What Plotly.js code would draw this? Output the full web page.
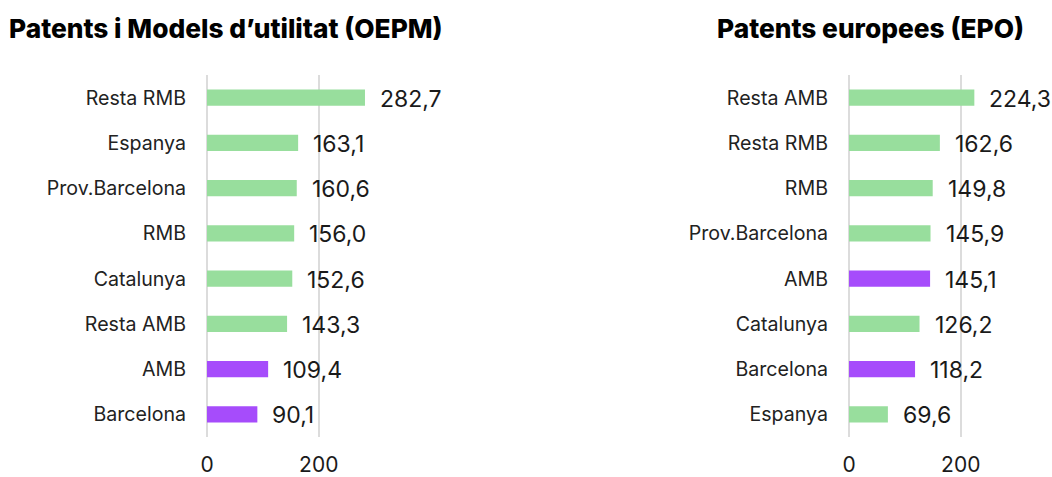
<!DOCTYPE html>
<html>
<head>
<meta charset="utf-8">
<script src="https://cdn.plot.ly/plotly-3.0.1.min.js"></script>
<style>html,body{margin:0;padding:0;background:#fff;}#chart{width:1052px;height:477px;}</style>
</head>
<body>
<div id="chart"></div>
<script>
// Left chart: Patents i Models d'utilitat (OEPM)
const oepmCategories = ["Resta RMB","Espanya","Prov.Barcelona","RMB","Catalunya","Resta AMB","AMB","Barcelona"];
const oepmValues = [282.7,163.1,160.6,156.0,152.6,143.3,109.4,90.1];
const oepmHighlight = [false,false,false,false,false,false,true,true];

// Right chart: Patents europees (EPO)
const epoCategories = ["Resta AMB","Resta RMB","RMB","Prov.Barcelona","AMB","Catalunya","Barcelona","Espanya"];
const epoValues = [224.3,162.6,149.8,145.9,145.1,126.2,118.2,69.6];
const epoHighlight = [false,false,false,false,true,false,true,false];

const titles = ["Patents i Models d\u2019utilitat (OEPM)","Patents europees (EPO)"];
const tickVals = [0,200];
const tickText = ["0","200"];

const GREEN = "#98DE9D", PURPLE = "#A64CFB";
const W = 1052, H = 477;
const FONT = "Inter, Roboto, 'Noto Sans', sans-serif";
const fmt = v => v.toFixed(1).replace(".", ",");

function bar(cats, vals, hl, xa, ya){
  return {
    type: "bar", orientation: "h",
    x: vals, y: cats, xaxis: xa, yaxis: ya,
    marker: {color: hl.map(h => h ? PURPLE : GREEN)},
    hoverinfo: "skip", showlegend: false
  };
}
function labels(cats, vals, xref, yref){
  return cats.map((c,i) => ({
    x: vals[i], y: c, xref: xref, yref: yref,
    text: fmt(vals[i]), showarrow: false, xanchor: "left", yanchor: "middle",
    xshift: 13, yshift: -1, font: {family: FONT, size: 23, color: "#1a1a1a"}
  }));
}

const yDomain = [1 - 437/H, 1 - 75/H];
const xRange = [0, 340];
function xaxis(x0){
  return {
    domain: [x0/W, (x0 + 190)/W], range: xRange,
    tickvals: tickVals, ticktext: tickText,
    showgrid: true, gridcolor: "#dcdcdc", gridwidth: 2,
    zeroline: true, zerolinecolor: "#dcdcdc", zerolinewidth: 2,
    showline: false, ticks: "",
    ticklabelstandoff: 13,
    tickfont: {family: FONT, size: 21, color: "#1a1a1a"},
    fixedrange: true
  };
}
function yaxis(anchor, cats){
  return {
    domain: yDomain, anchor: anchor, type: "category",
    categoryorder: "array", categoryarray: cats.slice().reverse(),
    showgrid: false, zeroline: false, showline: false, ticks: "",
    ticklabelstandoff: 20,
    tickfont: {family: FONT, size: 19.6, color: "#222"},
    fixedrange: true
  };
}

const data = [
  bar(oepmCategories, oepmValues, oepmHighlight, "x", "y"),
  bar(epoCategories, epoValues, epoHighlight, "x2", "y2")
];

const titleAnn = [
  {x: 226/W, y: 1 - 28/H, text: titles[0]},
  {x: 870/W, y: 1 - 28/H, text: titles[1]}
].map(a => Object.assign(a, {xref: "paper", yref: "paper", showarrow: false,
  xanchor: "center", yanchor: "middle",
  font: {family: FONT, size: 26.3, weight: 800, color: "#000"}}));

const layout = {
  width: W, height: H,
  margin: {l: 0, r: 0, t: 0, b: 0},
  paper_bgcolor: "#fff", plot_bgcolor: "#fff",
  bargap: 0.64,
  xaxis: Object.assign(xaxis(207), {anchor: "y"}),
  yaxis: yaxis("x", oepmCategories),
  xaxis2: Object.assign(xaxis(849), {anchor: "y2"}),
  yaxis2: yaxis("x2", epoCategories),
  annotations: titleAnn
    .concat(labels(oepmCategories, oepmValues, "x", "y"))
    .concat(labels(epoCategories, epoValues, "x2", "y2")),
  font: {family: FONT}
};

Plotly.newPlot("chart", data, layout, {displayModeBar: false, staticPlot: true});
</script>
</body>
</html>
